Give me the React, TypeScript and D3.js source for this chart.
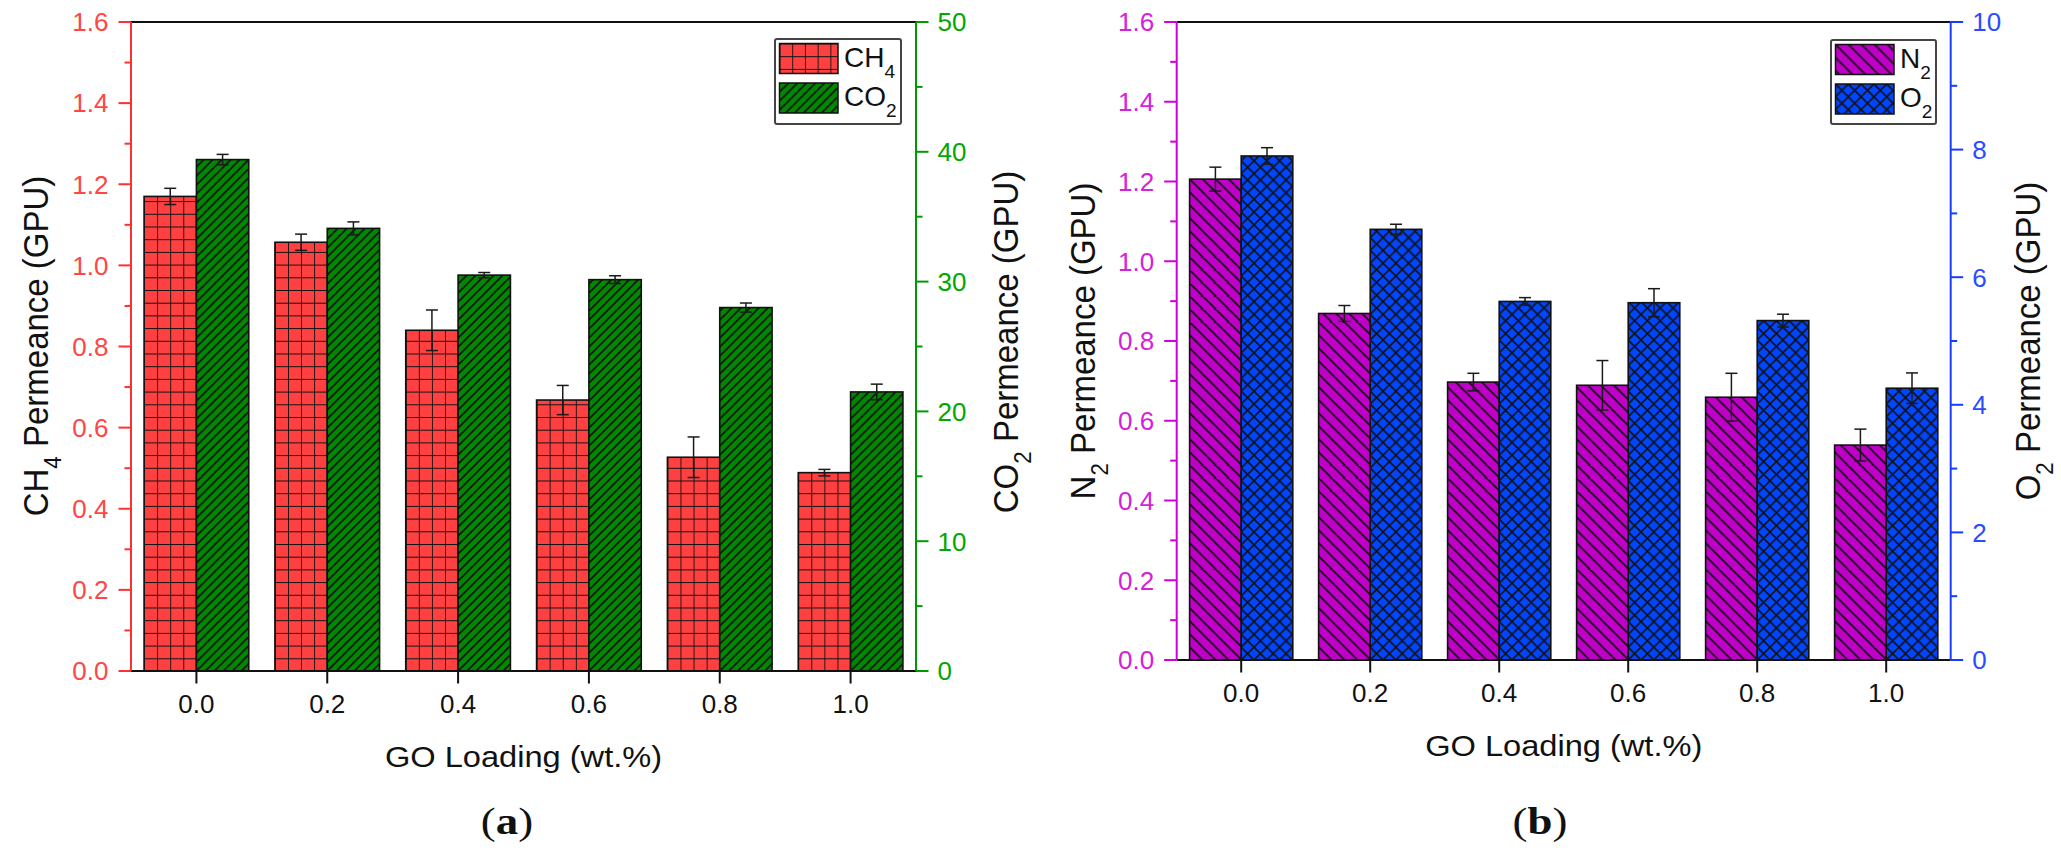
import React from "react";
import * as d3 from "d3";

// ---------- data ----------
const loadings = ["0.0", "0.2", "0.4", "0.6", "0.8", "1.0"];

const ch4 = [1.17, 1.057, 0.84, 0.668, 0.527, 0.489];
const ch4Err = [0.02, 0.02, 0.05, 0.036, 0.05, 0.008];
const co2 = [39.4, 34.1, 30.5, 30.15, 28.0, 21.5];
const co2Err = [0.4, 0.5, 0.2, 0.3, 0.35, 0.6];

const n2 = [1.206, 0.869, 0.697, 0.689, 0.659, 0.539];
const n2Err = [0.03, 0.02, 0.022, 0.062, 0.06, 0.04];
const o2 = [7.9, 6.75, 5.62, 5.6, 5.32, 4.26];
const o2Err = [0.13, 0.08, 0.06, 0.22, 0.1, 0.24];

const ch4Ticks = [0, 0.2, 0.4, 0.6, 0.8, 1.0, 1.2, 1.4, 1.6];
const co2Ticks = [0, 10, 20, 30, 40, 50];
const n2Ticks = [0, 0.2, 0.4, 0.6, 0.8, 1.0, 1.2, 1.4, 1.6];
const o2Ticks = [0, 2, 4, 6, 8, 10];

const xTitle = "GO Loading (wt.%)";

type Seg = { t: string; sub?: boolean };
const ch4Title: Seg[] = [{ t: "CH" }, { t: "4", sub: true }, { t: " Permeance (GPU)" }];
const co2Title: Seg[] = [{ t: "CO" }, { t: "2", sub: true }, { t: " Permeance (GPU)" }];
const n2Title: Seg[] = [{ t: "N" }, { t: "2", sub: true }, { t: " Permeance (GPU)" }];
const o2Title: Seg[] = [{ t: "O" }, { t: "2", sub: true }, { t: " Permeance (GPU)" }];
const ch4Legend: Seg[] = [{ t: "CH" }, { t: "4", sub: true }];
const co2Legend: Seg[] = [{ t: "CO" }, { t: "2", sub: true }];
const n2Legend: Seg[] = [{ t: "N" }, { t: "2", sub: true }];
const o2Legend: Seg[] = [{ t: "O" }, { t: "2", sub: true }];

// ---------- style ----------
const SANS = "'Liberation Sans', Arial, Helvetica, sans-serif";
const SERIF = "'Liberation Serif', 'Times New Roman', serif";

const segsEl = (segs: Seg[]) =>
  segs.map((s, i) =>
    s.sub ? (
      <tspan key={i} baselineShift="sub" fontSize="0.68em">
        {s.t}
      </tspan>
    ) : (
      <tspan key={i}>{s.t}</tspan>
    )
  );

type PatKind = "grid" | "fwd" | "back" | "cross";

function PatternDef({ id, kind, color, x, y, cell }: { id: string; kind: PatKind; color: string; x: number; y: number; cell: number }) {
  const s = cell;
  const sw = kind === "grid" ? 1.8 : 1.6;
  let h = s;
  let d = "";
  if (kind === "grid") {
    h = 12.7;
    d = `M0,0 V${h} M0,0 H${s}`;
  } else if (kind === "fwd") {
    d = `M0,${s} L${s},0 M${-s / 2},${s / 2} L${s / 2},${-s / 2} M${s / 2},${s * 1.5} L${s * 1.5},${s / 2}`;
  } else if (kind === "back") {
    d = `M0,0 L${s},${s} M${-s / 2},${s / 2} L${s / 2},${s * 1.5} M${s / 2},${-s / 2} L${s * 1.5},${s / 2}`;
  } else {
    d = `M0,${s} L${s},0 M${-s / 2},${s / 2} L${s / 2},${-s / 2} M${s / 2},${s * 1.5} L${s * 1.5},${s / 2} M0,0 L${s},${s} M${-s / 2},${s / 2} L${s / 2},${s * 1.5} M${s / 2},${-s / 2} L${s * 1.5},${s / 2}`;
  }
  return (
    <pattern id={id} patternUnits="userSpaceOnUse" x={x} y={y} width={s} height={h}>
      <rect x={0} y={0} width={s} height={h} fill={color} />
      <path d={d} stroke="#111" strokeWidth={sw} fill="none" />
    </pattern>
  );
}

type Series = { vals: number[]; errs: number[]; color: string; kind: PatKind; cell: number; legend: Seg[] };

type PanelCfg = {
  key: string;
  x0: number;
  x1: number;
  yTop: number;
  yBot: number;
  leftTicks: number[];
  rightTicks: number[];
  leftFmt: (v: number) => string;
  rightFmt: (v: number) => string;
  leftAxisColor: string;
  leftLabelColor: string;
  rightAxisColor: string;
  rightLabelColor: string;
  leftTitle: Seg[];
  rightTitle: Seg[];
  leftTitleX: number;
  leftTitleY: number;
  rightTitleX: number;
  rightTitleY: number;
  a: Series;
  b: Series;
  legend: { x: number; y: number; w: number; h: number };
  tag: string;
  tagX: number;
  tagY: number;
};

function Panel({ cfg }: { cfg: PanelCfg }) {
  const x = d3.scaleBand<string>().domain(loadings).range([cfg.x0, cfg.x1]).paddingInner(0).paddingOuter(0);
  const yL = d3.scaleLinear().domain([0, d3.max(cfg.leftTicks) as number]).range([cfg.yBot, cfg.yTop]);
  const yR = d3.scaleLinear().domain([0, d3.max(cfg.rightTicks) as number]).range([cfg.yBot, cfg.yTop]);
  const bw = x.bandwidth() * 0.4;
  const center = (c: string) => (x(c) as number) + x.bandwidth() / 2;
  const mids = (t: number[]) => t.slice(1).map((v, i) => (v + t[i]) / 2);
  const leftMinor = mids(cfg.leftTicks);
  const rightMinor = mids(cfg.rightTicks);
  const MAJ = 12.5;
  const MIN = 6.5;
  const AX = 2;

  const bars: { id: string; x: number; y: number; h: number; s: Series; v: number; e: number; cx: number; scale: d3.ScaleLinear<number, number> }[] = [];
  loadings.forEach((c, i) => {
    const cx = center(c);
    const ya = yL(cfg.a.vals[i]);
    bars.push({ id: `${cfg.key}-a-${i}`, x: cx - bw, y: ya, h: cfg.yBot - ya, s: cfg.a, v: cfg.a.vals[i], e: cfg.a.errs[i], cx: cx - bw / 2, scale: yL });
    const yb = yR(cfg.b.vals[i]);
    bars.push({ id: `${cfg.key}-b-${i}`, x: cx, y: yb, h: cfg.yBot - yb, s: cfg.b, v: cfg.b.vals[i], e: cfg.b.errs[i], cx: cx + bw / 2, scale: yR });
  });

  const lg = cfg.legend;
  const sw = { x: lg.x + 4.5, w: 58.5, h: 30 };
  const sy1 = lg.y + 4.5;
  const sy2 = lg.y + 44;

  return (
    <g>
      <defs>
        {bars.map((b) => (
          <PatternDef key={b.id} id={`p-${b.id}`} kind={b.s.kind} color={b.s.color} x={b.x} y={cfg.yBot} cell={b.s.cell} />
        ))}
        <PatternDef id={`p-${cfg.key}-lgA`} kind={cfg.a.kind} color={cfg.a.color} x={sw.x} y={sy1} cell={cfg.a.kind === "grid" ? sw.w / 4.6 : cfg.a.cell} />
        <PatternDef id={`p-${cfg.key}-lgB`} kind={cfg.b.kind} color={cfg.b.color} x={sw.x} y={sy2} cell={cfg.b.cell} />
      </defs>

      {/* bars */}
      {bars.map((b) => (
        <rect key={b.id} x={b.x} y={b.y} width={bw} height={b.h} fill={`url(#p-${b.id})`} stroke="#111" strokeWidth={1.6} />
      ))}

      {/* error bars */}
      {bars.map((b) => {
        const yt = b.scale(b.v + b.e);
        const yb = b.scale(b.v - b.e);
        return (
          <g key={`e-${b.id}`} stroke="#1a1a1a" strokeWidth={1.5}>
            <line x1={b.cx} x2={b.cx} y1={yt} y2={yb} />
            <line x1={b.cx - 6} x2={b.cx + 6} y1={yt} y2={yt} />
            <line x1={b.cx - 6} x2={b.cx + 6} y1={yb} y2={yb} />
          </g>
        );
      })}

      {/* frame: top & bottom */}
      <line x1={cfg.x0} x2={cfg.x1} y1={cfg.yTop} y2={cfg.yTop} stroke="#111" strokeWidth={2.2} />
      <line x1={cfg.x0} x2={cfg.x1} y1={cfg.yBot} y2={cfg.yBot} stroke="#111" strokeWidth={2.2} />

      {/* x ticks */}
      {loadings.map((c) => (
        <g key={`xt-${c}`}>
          <line x1={center(c)} x2={center(c)} y1={cfg.yBot} y2={cfg.yBot + MAJ} stroke="#111" strokeWidth={2} />
          <text x={center(c)} y={cfg.yBot + 42} textAnchor="middle" fontSize={26} fontFamily={SANS} fill="#111">
            {c}
          </text>
        </g>
      ))}

      {/* x title */}
      <g transform={`translate(${(cfg.x0 + cfg.x1) / 2},${cfg.yBot + 96}) scale(1.14,1)`}>
        <text textAnchor="middle" fontSize={28.6} fontFamily={SANS} fill="#111">
          {xTitle}
        </text>
      </g>

      {/* left axis */}
      <line x1={cfg.x0} x2={cfg.x0} y1={cfg.yTop} y2={cfg.yBot} stroke={cfg.leftAxisColor} strokeWidth={AX} />
      {cfg.leftTicks.map((v) => (
        <g key={`lt-${v}`}>
          <line x1={cfg.x0 - MAJ} x2={cfg.x0} y1={yL(v)} y2={yL(v)} stroke={cfg.leftAxisColor} strokeWidth={2} />
          <text x={cfg.x0 - MAJ - 10} y={yL(v)} dy="0.36em" textAnchor="end" fontSize={26} fontFamily={SANS} fill={cfg.leftLabelColor}>
            {cfg.leftFmt(v)}
          </text>
        </g>
      ))}
      {leftMinor.map((v) => (
        <line key={`lm-${v}`} x1={cfg.x0 - MIN} x2={cfg.x0} y1={yL(v)} y2={yL(v)} stroke={cfg.leftAxisColor} strokeWidth={2} />
      ))}

      {/* right axis */}
      <line x1={cfg.x1} x2={cfg.x1} y1={cfg.yTop} y2={cfg.yBot} stroke={cfg.rightAxisColor} strokeWidth={AX} />
      {cfg.rightTicks.map((v) => (
        <g key={`rt-${v}`}>
          <line x1={cfg.x1} x2={cfg.x1 + MAJ} y1={yR(v)} y2={yR(v)} stroke={cfg.rightAxisColor} strokeWidth={2} />
          <text x={cfg.x1 + MAJ + 9} y={yR(v)} dy="0.36em" textAnchor="start" fontSize={26} fontFamily={SANS} fill={cfg.rightLabelColor}>
            {cfg.rightFmt(v)}
          </text>
        </g>
      ))}
      {rightMinor.map((v) => (
        <line key={`rm-${v}`} x1={cfg.x1} x2={cfg.x1 + MIN} y1={yR(v)} y2={yR(v)} stroke={cfg.rightAxisColor} strokeWidth={2} />
      ))}

      {/* y titles */}
      <g transform={`translate(${cfg.leftTitleX},${cfg.leftTitleY}) rotate(-90) scale(1,1.06)`}>
        <text textAnchor="middle" dy="0.36em" fontSize={33} fontFamily={SANS} fill="#111">
          {segsEl(cfg.leftTitle)}
        </text>
      </g>
      <g transform={`translate(${cfg.rightTitleX},${cfg.rightTitleY}) rotate(-90) scale(1,1.06)`}>
        <text textAnchor="middle" dy="0.36em" fontSize={33} fontFamily={SANS} fill="#111">
          {segsEl(cfg.rightTitle)}
        </text>
      </g>

      {/* legend */}
      <rect x={lg.x} y={lg.y} width={lg.w} height={lg.h} fill="#fff" stroke="#444" strokeWidth={2} rx={2} />
      <rect x={sw.x} y={sy1} width={sw.w} height={sw.h} fill={`url(#p-${cfg.key}-lgA)`} stroke="#111" strokeWidth={1.5} />
      <rect x={sw.x} y={sy2} width={sw.w} height={sw.h} fill={`url(#p-${cfg.key}-lgB)`} stroke="#111" strokeWidth={1.5} />
      <text x={sw.x + sw.w + 6} y={sy1 + 23} fontSize={28} fontFamily={SANS} fill="#111">
        {segsEl(cfg.a.legend)}
      </text>
      <text x={sw.x + sw.w + 6} y={sy2 + 23} fontSize={28} fontFamily={SANS} fill="#111">
        {segsEl(cfg.b.legend)}
      </text>

      {/* panel tag */}
      <g transform={`translate(${cfg.tagX},${cfg.tagY}) scale(1.15,1)`}>
        <text textAnchor="middle" fontSize={39} fontFamily={SERIF} fill="#111">
          (<tspan fontWeight="bold">{cfg.tag}</tspan>)
        </text>
      </g>
    </g>
  );
}

const f1 = d3.format(".1f");
const f0 = d3.format("d");

const panelA: PanelCfg = {
  key: "a",
  x0: 131,
  x1: 916,
  yTop: 22,
  yBot: 671,
  leftTicks: ch4Ticks,
  rightTicks: co2Ticks,
  leftFmt: f1,
  rightFmt: f0,
  leftAxisColor: "#ff3030",
  leftLabelColor: "#ff4545",
  rightAxisColor: "#009a00",
  rightLabelColor: "#00a800",
  leftTitle: ch4Title,
  rightTitle: co2Title,
  leftTitleX: 35,
  leftTitleY: 346,
  rightTitleX: 1005,
  rightTitleY: 342,
  a: { vals: ch4, errs: ch4Err, color: "#ff4040", kind: "grid", cell: 13.08, legend: ch4Legend },
  b: { vals: co2, errs: co2Err, color: "#008800", kind: "fwd", cell: 9, legend: co2Legend },
  legend: { x: 775, y: 39, w: 126, h: 85 },
  tag: "a",
  tagX: 507,
  tagY: 834,
};

const panelB: PanelCfg = {
  key: "b",
  x0: 1176.7,
  x1: 1950.7,
  yTop: 22,
  yBot: 660,
  leftTicks: n2Ticks,
  rightTicks: o2Ticks,
  leftFmt: f1,
  rightFmt: f0,
  leftAxisColor: "#d000d8",
  leftLabelColor: "#d820d8",
  rightAxisColor: "#1a3cff",
  rightLabelColor: "#2a4cff",
  leftTitle: n2Title,
  rightTitle: o2Title,
  leftTitleX: 1082,
  leftTitleY: 341,
  rightTitleX: 2027,
  rightTitleY: 341,
  a: { vals: n2, errs: n2Err, color: "#c000c8", kind: "back", cell: 13, legend: n2Legend },
  b: { vals: o2, errs: o2Err, color: "#0046ff", kind: "cross", cell: 12.8, legend: o2Legend },
  legend: { x: 1831, y: 40, w: 105, h: 84 },
  tag: "b",
  tagX: 1540,
  tagY: 834,
};

export default function App() {
  return (
    <svg
      width={2061}
      height={856}
      viewBox="0 0 2061 856"
      style={{ position: "absolute", left: 0, top: 0, background: "#fff" }}
    >
      <rect x={0} y={0} width={2061} height={856} fill="#fff" />
      <Panel cfg={panelA} />
      <Panel cfg={panelB} />
    </svg>
  );
}
